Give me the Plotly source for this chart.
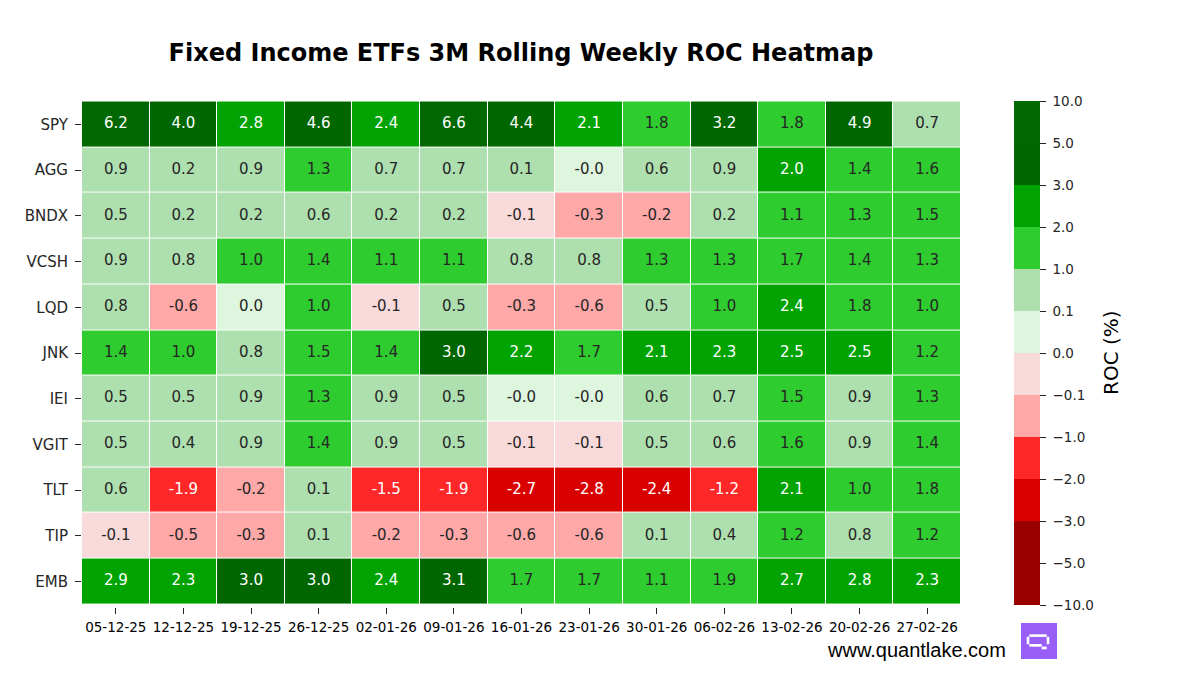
import numpy as np
import plotly.graph_objects as go

tickers = ["SPY", "AGG", "BNDX", "VCSH", "LQD", "JNK", "IEI", "VGIT", "TLT", "TIP", "EMB"]
dates = ["05-12-25", "12-12-25", "19-12-25", "26-12-25", "02-01-26", "09-01-26", "16-01-26",
         "23-01-26", "30-01-26", "06-02-26", "13-02-26", "20-02-26", "27-02-26"]

spy = [6.2, 4.0, 2.8, 4.6, 2.4, 6.6, 4.4, 2.1, 1.8, 3.2, 1.8, 4.9, 0.7]
agg = [0.9, 0.2, 0.9, 1.3, 0.7, 0.7, 0.1, -0.0, 0.6, 0.9, 2.0, 1.4, 1.6]
bndx = [0.5, 0.2, 0.2, 0.6, 0.2, 0.2, -0.1, -0.3, -0.2, 0.2, 1.1, 1.3, 1.5]
vcsh = [0.9, 0.8, 1.0, 1.4, 1.1, 1.1, 0.8, 0.8, 1.3, 1.3, 1.7, 1.4, 1.3]
lqd = [0.8, -0.6, 0.0, 1.0, -0.1, 0.5, -0.3, -0.6, 0.5, 1.0, 2.4, 1.8, 1.0]
jnk = [1.4, 1.0, 0.8, 1.5, 1.4, 3.0, 2.2, 1.7, 2.1, 2.3, 2.5, 2.5, 1.2]
iei = [0.5, 0.5, 0.9, 1.3, 0.9, 0.5, -0.0, -0.0, 0.6, 0.7, 1.5, 0.9, 1.3]
vgit = [0.5, 0.4, 0.9, 1.4, 0.9, 0.5, -0.1, -0.1, 0.5, 0.6, 1.6, 0.9, 1.4]
tlt = [0.6, -1.9, -0.2, 0.1, -1.5, -1.9, -2.7, -2.8, -2.4, -1.2, 2.1, 1.0, 1.8]
tip = [-0.1, -0.5, -0.3, 0.1, -0.2, -0.3, -0.6, -0.6, 0.1, 0.4, 1.2, 0.8, 1.2]
emb = [2.9, 2.3, 3.0, 3.0, 2.4, 3.1, 1.7, 1.7, 1.1, 1.9, 2.7, 2.8, 2.3]

bounds = [-10, -5, -3, -2, -1, -0.1, 0, 0.1, 1, 2, 3, 5, 10]
bin_colors = ["#990000", "#990000", "#d90000", "#ff2828", "#ffa8a8", "#f9dada",
              "#ddf6dd", "#aedfae", "#2ecc2e", "#00a300", "#006600", "#006800"]
dark_bins = {0, 1, 2, 3, 9, 10, 11}

values = np.array([spy, agg, bndx, vcsh, lqd, jnk, iei, vgit, tlt, tip, emb], dtype=float)
idx = np.digitize(values, bounds[1:-1])
zbin = idx + 0.5

colorscale = []
n = len(bin_colors)
for k, c in enumerate(bin_colors):
    colorscale.append([k / n, c])
    colorscale.append([(k + 1) / n, c])

tick_text = ["\u00a0" + f"{b:.1f}".replace("-", "\u2212") for b in bounds]

# plot area in pixels
L, R, T, B = 82, 961, 99, 607
PW, PH = R - L, B - T

def px_x(p):
    return (p - L) / PW

def px_y(p):
    return (B - p) / PH

fig = go.Figure()
fig.add_trace(go.Heatmap(
    z=zbin, x=dates, y=tickers, zmin=0, zmax=n,
    colorscale=colorscale, xgap=1, ygap=1, hoverinfo="skip",
    colorbar=dict(
        tickvals=list(range(n + 1)), ticktext=tick_text,
        thickness=26, len=504, lenmode="pixels", y=px_y(353), yanchor="middle",
        x=px_x(1014), xanchor="left", xpad=0, ypad=0,
        outlinewidth=0, ticks="outside", ticklen=6, tickwidth=1.3, tickcolor="#262626",
        tickfont=dict(family="DejaVu Sans", size=13.5, color="#262626"),
    ),
))

xs, ys, txt, cols = [], [], [], []
for i, t in enumerate(tickers):
    for j, d in enumerate(dates):
        xs.append(d)
        ys.append(t)
        txt.append(f"{values[i, j]:.1f}")
        cols.append("#ffffff" if idx[i, j] in dark_bins else "#262626")

fig.add_trace(go.Scatter(
    x=xs, y=ys, mode="text", text=txt, hoverinfo="skip", showlegend=False,
    textfont=dict(family="DejaVu Sans", size=15, color=cols),
))

shapes = [dict(type="rect", xref="paper", yref="paper",
               x0=px_x(1021), x1=px_x(1057), y0=px_y(659), y1=px_y(623),
               fillcolor="#985ef6", line=dict(width=0), layer="above")]
white_rects = [
    (1029.3, 1046.7, 634.3, 636.9),
    (1026.7, 1029.3, 636.7, 644.2),
    (1046.7, 1049.3, 636.7, 644.2),
    (1029.3, 1041.8, 644.0, 646.7),
    (1041.7, 1046.7, 646.6, 649.3),
]
for x0, x1, y0, y1 in white_rects:
    shapes.append(dict(type="rect", xref="paper", yref="paper",
                       x0=px_x(x0), x1=px_x(x1), y0=px_y(y1), y1=px_y(y0),
                       fillcolor="#ffffff", line=dict(width=0), layer="above"))

fig.update_layout(
    width=1200, height=675,
    margin=dict(l=L, r=1200 - R, t=T, b=675 - B),
    paper_bgcolor="white", plot_bgcolor="white",
    title=dict(text="<b>Fixed Income ETFs 3M Rolling Weekly ROC Heatmap</b>",
               x=0.5 * (83 + 959) / 1200, xanchor="center", y=1 - 53 / 675, yanchor="middle",
               font=dict(family="DejaVu Sans", size=24, color="#000000")),
    xaxis=dict(type="category", categoryorder="array", categoryarray=dates,
               showgrid=False, zeroline=False,
               ticks="outside", ticklen=6, tickwidth=1.3, tickcolor="#262626",
               ticklabelstandoff=2,
               tickfont=dict(family="DejaVu Sans", size=13.5, color="#000000"),
               showline=False, range=[-0.5, len(dates) - 0.5]),
    yaxis=dict(type="category", categoryorder="array", categoryarray=tickers,
               autorange="reversed",
               showgrid=False, zeroline=False,
               ticks="outside", ticklen=6, tickwidth=1.3, tickcolor="#262626",
               ticklabelstandoff=4,
               tickfont=dict(family="DejaVu Sans", size=15, color="#262626"),
               showline=False),
    shapes=shapes,
    annotations=[
        dict(text="www.quantlake.com", xref="paper", yref="paper",
             x=px_x(916), y=px_y(650), xanchor="center", yanchor="middle",
             showarrow=False,
             font=dict(family="Liberation Sans", size=20, color="#000000")),
        dict(text="ROC (%)", xref="paper", yref="paper", textangle=-90,
             x=px_x(1111), y=px_y(353), xanchor="center", yanchor="middle",
             showarrow=False,
             font=dict(family="DejaVu Sans", size=20, color="#000000")),
    ],
)

fig.write_html("out.html", config={"displayModeBar": False},
               post_script="document.body.style.margin='0';")
